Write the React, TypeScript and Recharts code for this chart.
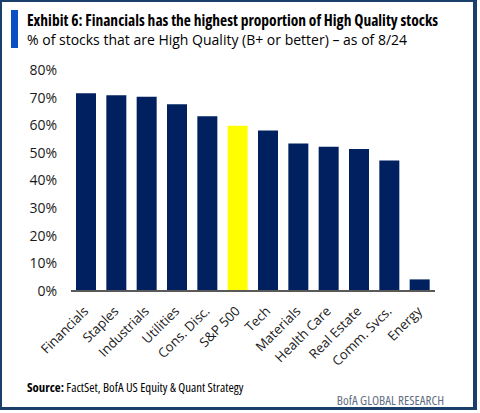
import { BarChart, Bar, XAxis, YAxis, Cell } from 'recharts';

// Données (part de titres "High Quality", B+ ou mieux)
const sectors = [
  'Financials',
  'Staples',
  'Industrials',
  'Utilities',
  'Cons. Disc.',
  'S&P 500',
  'Tech',
  'Materials',
  'Health Care',
  'Real Estate',
  'Comm. Svcs.',
  'Energy',
];
const shares = [0.716, 0.709, 0.703, 0.676, 0.633, 0.598, 0.581, 0.534, 0.522, 0.514, 0.472, 0.042];
const yTicks = [0, 0.1, 0.2, 0.3, 0.4, 0.5, 0.6, 0.7, 0.8];

const FONT = '"Open Sans", sans-serif';
const NAVY = '#002060';
const HIGHLIGHT = '#ffff00';

const data = sectors.map((name, i) => ({ name, value: shares[i] }));

// Étiquettes inclinées à -45°
function SlantTick(props: any) {
  const { x, y, payload } = props;
  return (
    <g transform={`translate(${x + 3},${y + 13})`}>
      <text
        transform="rotate(-45)"
        textAnchor="end"
        fontSize={13.2}
        fontFamily={FONT}
        fill="#1a1a1a"
      >
        {payload.value}
      </text>
    </g>
  );
}

export default function App() {
  return (
    <div
      style={{
        position: 'absolute',
        left: 0,
        top: 0,
        width: 480,
        height: 413,
        background: '#fff',
        fontFamily: FONT,
        overflow: 'hidden',
      }}
    >
      {/* cadre */}
      <div
        style={{
          position: 'absolute',
          left: 0,
          top: 0,
          width: 477,
          height: 410,
          border: '2px solid #1b3f6b',
          borderRightWidth: 4,
          borderBottomWidth: 3,
          boxSizing: 'border-box',
        }}
      />
      <div style={{ position: 'absolute', left: 11, top: 10, width: 7, height: 38, background: '#0a4fc4' }} />
      <div
        style={{
          position: 'absolute',
          left: 27,
          top: 9,
          fontSize: 15.5,
          fontWeight: 700,
          fontStretch: 'condensed',
          color: '#000',
          whiteSpace: 'nowrap',
        }}
      >
        Exhibit 6: Financials has the highest proportion of High Quality stocks
      </div>
      <div
        style={{
          position: 'absolute',
          left: 27,
          top: 30,
          fontSize: 14,
          color: '#000',
          whiteSpace: 'nowrap',
        }}
      >
        % of stocks that are High Quality (B+ or better) – as of 8/24
      </div>

      <div style={{ position: 'absolute', left: 0, top: 0 }}>
        <BarChart
          width={480}
          height={413}
          data={data}
          margin={{ top: 70, right: 45, left: 0, bottom: 22 }}
          barSize={20}
        >
          <YAxis
            width={71}
            domain={[0, 0.8]}
            ticks={yTicks}
            interval={0}
            axisLine={false}
            tickLine={false}
            tickSize={0}
            tickMargin={14}
            tick={{ fontSize: 14, fill: '#1a1a1a', fontFamily: FONT }}
            tickFormatter={(v) => `${Math.round(v * 100)}%`}
          />
          <XAxis
            dataKey="name"
            height={100}
            interval={0}
            tickLine={false}
            axisLine={{ stroke: '#595959', strokeWidth: 2 }}
            tick={<SlantTick />}
          />
          <Bar dataKey="value" isAnimationActive={false}>
            {data.map((d) => (
              <Cell key={d.name} fill={d.name === 'S&P 500' ? HIGHLIGHT : NAVY} />
            ))}
          </Bar>
        </BarChart>
      </div>

      <div
        style={{
          position: 'absolute',
          left: 27,
          top: 378,
          fontSize: 12.8,
          fontStretch: 'condensed',
          color: '#000',
          whiteSpace: 'nowrap',
        }}
      >
        <b>Source:</b> FactSet, BofA US Equity &amp; Quant Strategy
      </div>
      <div
        style={{
          position: 'absolute',
          right: 36,
          top: 391,
          fontSize: 13,
          fontStretch: 'condensed',
          color: '#5f6e82',
          whiteSpace: 'nowrap',
        }}
      >
        BofA GLOBAL RESEARCH
      </div>
    </div>
  );
}
